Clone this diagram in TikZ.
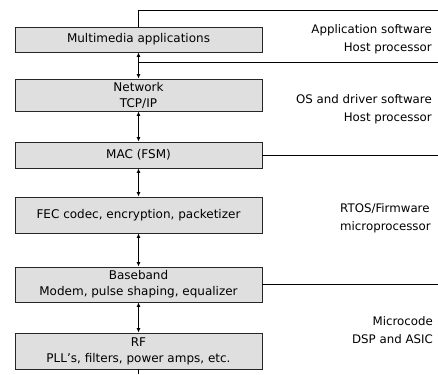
\documentclass[tikz,border=0pt]{standalone}
\usepackage{fontspec}
\setmainfont{DejaVu Sans}
\usetikzlibrary{arrows.meta}
\begin{document}
\begin{tikzpicture}[x=1pt,y=-1pt,
    layerbox/.style={draw=black!85, fill=gray!25, line width=0.9pt, minimum width=247pt,
                     align=center, inner sep=0pt, font=\fontsize{12}{16}\selectfont},
    sidetext/.style={inner sep=0pt, font=\fontsize{11.8}{18}\selectfont},
    link/.style={line width=0.9pt, {Latex[length=4.5pt,width=4pt]}-{Latex[length=4.5pt,width=4pt]}},
    rule/.style={line width=0.9pt}]
  \useasboundingbox (0,0) rectangle (438,374);
  \def\midX{138.5}
  \def\rightEdge{438}
  % protocol layers, top to bottom
  \foreach \N/\Y/\H/\T in {mm/39.5/25/{Multimedia applications},
                           net/95/32/{Network\\TCP/IP},
                           mac/155/26/{MAC (FSM)},
                           fec/215/36/{FEC codec, encryption, packetizer},
                           bb/284.5/35/{Baseband\\Modem, pulse shaping, equalizer},
                           rf/351/36/{RF\\PLL’s, filters, power amps, etc.}}
      {
      \node[layerbox, minimum height=\H pt] (\N) at (\midX,\Y) {\T};
      }
  \foreach \A/\B in {mm/net, net/mac, mac/fec, fec/bb, bb/rf}
      \draw[link] (\A) -- (\B);
  % separators between the software domains
  \coordinate (top) at (\rightEdge,10);
  \coordinate (sep1) at (\midX,62);
  \coordinate (bottom) at (\midX,374);
  \draw[rule] (mm.north) |- (top);
  \draw[rule] (sep1) -- (sep1 -| top);
  \draw[rule] (mac.east) -- (mac.east -| top);
  \draw[rule] (bb.east) -- (bb.east -| top);
  \draw[rule] (rf.south) -- (bottom);
  % domain labels
  \node[sidetext, align=right, anchor=north east] (app) at (432,24) {Application software\\Host processor};
  \node[sidetext, align=right, anchor=north east] (os) at (432,94) {OS and driver software\\Host processor\hspace{9pt}};
  \node[sidetext, align=left, anchor=north west] (rtos) at (340,203) {RTOS/Firmware\\microprocessor};
  \node[sidetext, align=right, anchor=north east] (dsp) at (433,316) {Microcode\\DSP and ASIC};
\end{tikzpicture}
\end{document}
